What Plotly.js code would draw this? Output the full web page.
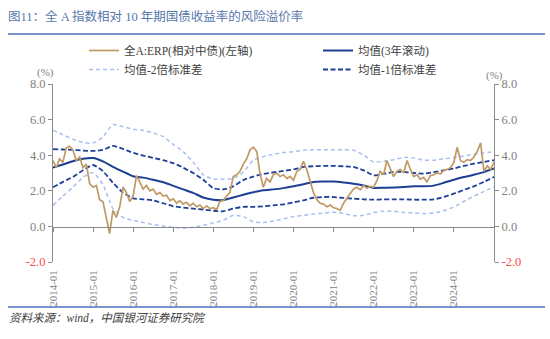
<!DOCTYPE html>
<html><head><meta charset="utf-8">
<script src="https://cdn.plot.ly/plotly-3.0.1.min.js"></script>
<style>html,body{margin:0;padding:0;background:#fff}#chart{width:550px;height:339px}</style>
</head><body><div id="chart"></div>
<script>
function monthSeq(y, m, n, step){const out=[];for(let i=0;i<n;i++){const t=(m-1)+i*step;const yy=y+Math.floor(t/12);const mm=t%12+1;out.push(yy+'-'+String(mm).padStart(2,'0')+'-01');}return out;}

// ERP monthly, 2014-01 .. 2025-01
const erpDates = monthSeq(2014,1,133,1);
const erpValues = [
 3.7,3.3,3.8,3.6,4.4,4.5,4.3,3.7,3.9,3.3,3.5,2.4,
 2.2,2.3,1.5,1.4,0.5,-0.4,0.9,0.5,1.1,2.2,1.9,1.4,
 1.7,2.85,2.5,2.1,2.3,2.0,2.1,1.8,1.9,1.7,1.75,1.45,
 1.55,1.3,1.45,1.25,1.35,1.15,1.3,1.1,1.2,1.0,1.15,1.0,
 1.05,0.95,1.4,1.45,1.7,1.9,2.8,2.9,3.1,3.5,3.8,4.3,
 4.45,4.2,3.0,2.2,2.7,2.5,2.9,3.0,2.8,2.9,2.7,2.8,
 2.6,3.1,3.2,3.65,3.2,2.6,1.9,1.5,1.3,1.25,1.1,1.2,
 1.05,1.0,0.9,1.3,1.6,1.85,2.1,2.2,2.05,2.3,2.15,2.25,
 2.2,2.6,3.1,2.9,3.7,3.2,2.8,3.1,3.2,3.0,3.7,3.2,
 2.8,2.9,2.65,2.75,2.5,2.85,2.9,3.0,2.95,3.15,3.2,3.3,
 3.6,4.45,3.7,3.6,3.75,3.7,3.9,4.2,4.7,3.1,3.4,3.2,
 3.6];

// Bands, quarterly 2014-01 .. 2025-01
const bandDates = monthSeq(2014,1,45,3);
const meanValues = [3.30,3.48,3.66,3.80,3.84,3.65,3.35,3.08,2.82,2.74,2.62,2.48,2.28,2.08,1.88,1.62,1.50,1.48,1.62,1.78,1.92,2.03,2.08,2.15,2.25,2.37,2.50,2.52,2.52,2.47,2.40,2.30,2.16,2.17,2.18,2.21,2.25,2.25,2.29,2.45,2.62,2.77,2.90,3.05,3.25];
const plus1Values = [4.34,4.32,4.30,4.26,4.24,4.30,4.52,4.35,4.13,3.98,3.85,3.72,3.55,3.30,3.00,2.62,2.15,2.08,2.25,2.60,2.80,2.95,3.03,3.12,3.20,3.34,3.38,3.40,3.40,3.38,3.34,3.15,2.87,2.95,3.06,3.06,3.00,2.97,3.05,3.15,3.25,3.40,3.52,3.62,3.72];
const minus1Values = [2.20,2.50,2.78,3.15,3.45,3.10,2.45,1.90,1.58,1.52,1.46,1.30,1.13,1.06,1.00,0.95,0.88,0.85,1.00,1.10,1.10,1.13,1.18,1.24,1.35,1.46,1.61,1.65,1.65,1.60,1.56,1.52,1.50,1.52,1.52,1.52,1.50,1.50,1.52,1.65,1.84,2.05,2.25,2.50,2.78];
const plus2Values = [5.40,5.15,4.90,4.72,4.68,5.03,5.72,5.60,5.46,5.40,5.25,5.05,4.60,4.20,3.60,2.90,2.66,2.65,2.70,3.05,3.72,3.92,4.05,4.15,4.20,4.28,4.30,4.30,4.30,4.30,4.28,4.00,3.62,3.66,3.75,3.87,3.85,3.72,3.72,3.80,3.87,3.95,4.05,4.12,4.20];
const minus2Values = [1.18,1.70,2.20,2.75,3.02,2.35,1.00,0.50,0.34,0.22,0.10,0.02,-0.05,-0.10,-0.05,0.06,0.20,0.35,0.62,0.55,0.25,0.22,0.30,0.42,0.55,0.62,0.70,0.75,0.80,0.72,0.60,0.62,0.78,0.85,0.85,0.78,0.75,0.73,0.75,0.88,1.09,1.40,1.70,1.95,2.25];

const names = {erp:'全A:ERP(相对中债)(左轴)', mean:'均值(3年滚动)', m2:'均值-2倍标准差', m1:'均值-1倍标准差', p2:'均值+2倍标准差', p1:'均值+1倍标准差'};
const yearTicks = monthSeq(2014,1,11,12);
const yTickVals = [-2,0,2,4,6,8];
const yTickText = ['<span style="color:#ff4a4a">-2.0</span>','0.0','2.0','4.0','6.0','8.0'];
const xRange = ['2014-01-01','2025-01-01'];
const yRange = [-2,8];

const W=550,H=339,L=53,R=56,T=84,B=77;
const pw=W-L-R, ph=H-T-B;
const px2x = p => (p-L)/pw;
const py2y = p => (H-B-p)/ph;

const cTan='#c09a64', cNavy='#1c3f94', cDark='#1f3f99', cLight='#a8c0ee';
const serif='Liberation Serif, Noto Sans CJK SC';

const data = [
 {x:erpDates, y:erpValues, name:names.erp, type:'scatter', mode:'lines', line:{color:cTan,width:1.7}, xaxis:'x2', yaxis:'y2', legend:'legend'},
 {x:bandDates, y:meanValues, name:names.mean, type:'scatter', mode:'lines', line:{color:cNavy,width:2,shape:'spline',smoothing:0.6}, legend:'legend2'},
 {x:bandDates, y:minus2Values, name:names.m2, type:'scatter', mode:'lines', line:{color:cLight,width:1.5,dash:'4px,3px',shape:'spline',smoothing:0.6}, legend:'legend'},
 {x:bandDates, y:minus1Values, name:names.m1, type:'scatter', mode:'lines', line:{color:cDark,width:1.8,dash:'5px,2.5px',shape:'spline',smoothing:0.6}, legend:'legend2'},
 {x:bandDates, y:plus2Values, name:names.p2, type:'scatter', mode:'lines', line:{color:cLight,width:1.5,dash:'4px,3px',shape:'spline',smoothing:0.6}, showlegend:false},
 {x:bandDates, y:plus1Values, name:names.p1, type:'scatter', mode:'lines', line:{color:cDark,width:1.8,dash:'5px,2.5px',shape:'spline',smoothing:0.6}, showlegend:false}
];

const axisGray='#8c8c8c';
const tickFont={family:serif,size:12.5,color:'#7f7f7f'};
const yBase={range:yRange, tickmode:'array', tickvals:yTickVals, ticktext:yTickText, ticks:'outside', ticklen:4, tickcolor:axisGray, showline:true, linecolor:axisGray, linewidth:1, showgrid:false, zeroline:false, tickfont:tickFont, fixedrange:true};
const legendBase={orientation:'v', xanchor:'left', yanchor:'top', font:{family:serif,size:11.5,color:'#404040'}, bgcolor:'rgba(0,0,0,0)', borderwidth:0, tracegroupgap:0};

const layout = {
 width:W, height:H, margin:{l:L,r:R,t:T,b:B}, paper_bgcolor:'#fff', plot_bgcolor:'#fff',
 showlegend:true,
 title:{text:'图11：全 A 指数相对 10 年期国债收益率的风险溢价率', x:8/W, xanchor:'left', xref:'container', y:1-17/H, yref:'container', yanchor:'middle', font:{family:serif,size:12.5,color:'#5577aa'}},
 xaxis:{type:'date', range:xRange, tickmode:'array', tickvals:yearTicks, tickformat:'%Y-%m', tickangle:-90, showline:false, ticks:'', showgrid:false, zeroline:false, tickfont:{family:serif,size:11,color:'#7f7f7f'}, ticklabelstandoff:5, fixedrange:true},
 xaxis2:{type:'date', range:xRange, overlaying:'x', anchor:'free', position:py2y(226.5), tickmode:'array', tickvals:yearTicks, showticklabels:false, ticks:'outside', ticklen:4, tickcolor:axisGray, showline:true, linecolor:axisGray, linewidth:1, showgrid:false, zeroline:false, fixedrange:true},
 yaxis:Object.assign({side:'left'}, yBase),
 yaxis2:Object.assign({side:'right', overlaying:'y', anchor:'x'}, yBase),
 legend:Object.assign({x:px2x(84), y:py2y(36)}, legendBase),
 legend2:Object.assign({x:px2x(318), y:py2y(36)}, legendBase),
 shapes:[
  {type:'line', xref:'paper', yref:'paper', x0:px2x(8), x1:px2x(545), y0:py2y(34), y1:py2y(34), line:{color:'#4a72b8',width:1.5}},
  {type:'line', xref:'paper', yref:'paper', x0:px2x(8), x1:px2x(545), y0:py2y(307), y1:py2y(307), line:{color:'#4a72b8',width:1.5}}
 ],
 annotations:[
  {text:'(%)', xref:'paper', yref:'paper', x:px2x(45), y:py2y(72), xanchor:'center', yanchor:'middle', showarrow:false, font:{family:serif,size:11,color:'#7f7f7f'}},
  {text:'(%)', xref:'paper', yref:'paper', x:px2x(494), y:py2y(75), xanchor:'center', yanchor:'middle', showarrow:false, font:{family:serif,size:11,color:'#7f7f7f'}},
  {text:'资料来源：wind，中国银河证券研究院', xref:'paper', yref:'paper', x:px2x(7), y:py2y(318), xanchor:'left', yanchor:'middle', showarrow:false, font:{family:serif,size:11.5,color:'#404040',style:'italic'}}
 ]
};
Plotly.newPlot('chart', data, layout, {displayModeBar:false, staticPlot:true});
</script></body></html>
